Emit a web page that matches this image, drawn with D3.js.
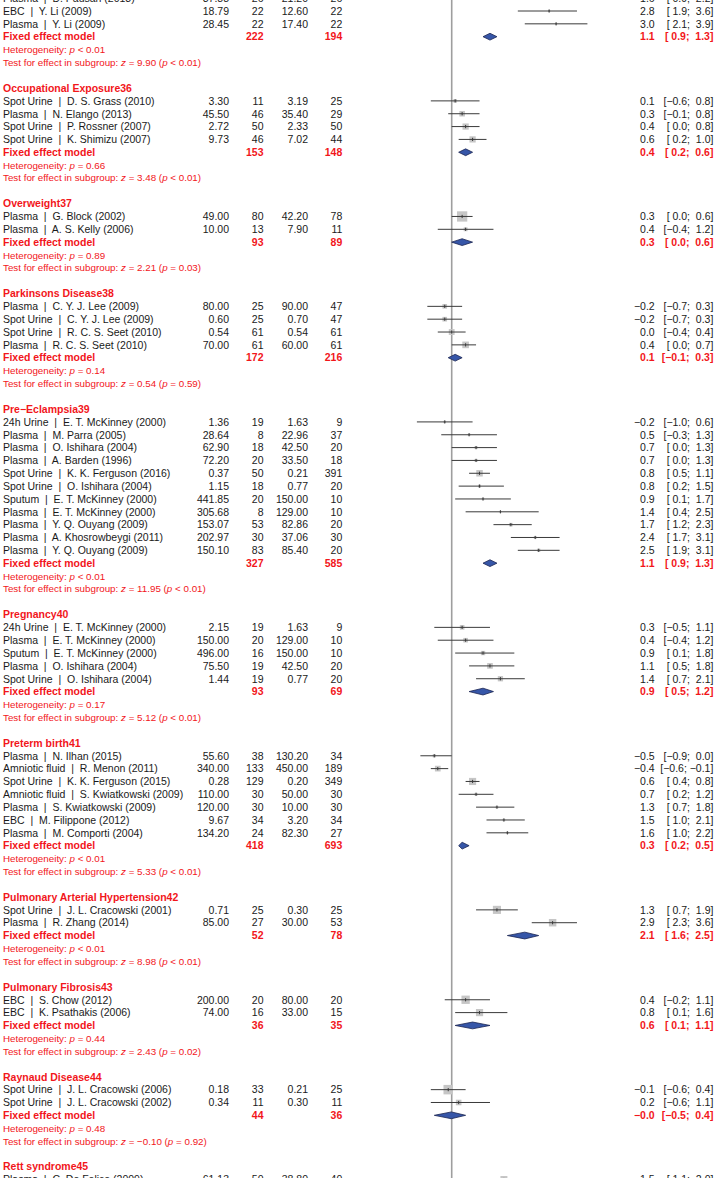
<!DOCTYPE html>
<html><head><meta charset="utf-8">
<script src="https://cdn.jsdelivr.net/npm/d3@7"></script>
<style>
html,body{margin:0;padding:0;background:#fff;}
svg text{white-space:pre;font-family:"Liberation Sans",Arial,sans-serif;}
</style>
</head><body>
<svg id="chart" width="714" height="1178"></svg>
<script>
// ---------- DATA ----------
const groupNames = [null, "Occupational Exposure36", "Overweight37", "Parkinsons Disease38",
  "Pre\u2212Eclampsia39", "Pregnancy40", "Preterm birth41", "Pulmonary Arterial Hypertension42",
  "Pulmonary Fibrosis43", "Raynaud Disease44", "Rett syndrome45"];
const fixedNE  = [222, 153, 93, 172, 327, 93, 418, 52, 36, 44, null];
const fixedNC  = [194, 148, 89, 216, 585, 69, 693, 78, 35, 36, null];
const fixedEst = [1.1, 0.4, 0.3, 0.1, 1.1, 0.9, 0.3, 2.1, 0.6, -0.01, null];
const fixedLo  = [0.9, 0.2, 0.0, -0.1, 0.9, 0.5, 0.2, 1.6, 0.1, -0.5, null];
const fixedHi  = [1.3, 0.6, 0.6, 0.3, 1.3, 1.2, 0.5, 2.5, 1.1, 0.4, null];
const hetP     = ["< 0.01", "= 0.66", "= 0.89", "= 0.14", "< 0.01", "= 0.17", "< 0.01", "< 0.01", "= 0.44", "= 0.48", null];
const testZ    = ["9.90", "3.48", "2.21", "0.54", "11.95", "5.12", "5.33", "8.98", "2.43", "\u22120.10", null];
const testP    = ["< 0.01", "< 0.01", "= 0.03", "= 0.59", "< 0.01", "< 0.01", "< 0.01", "< 0.01", "= 0.02", "= 0.92", null];
// weight of studies of a subgroup that fall outside the picture
const hiddenWeight = [120, 0, 0, 0, 0, 0, 0, 0, 0, 0, 28];

const studyGroup = [0,0,0, 1,1,1,1, 2,2, 3,3,3,3, 4,4,4,4,4,4,4,4,4,4,4, 5,5,5,5,5, 6,6,6,6,6,6,6, 7,7, 8,8, 9,9, 10];
const studyLabel = [
  "Plasma  |  D. Pausan (2013)", "EBC  |  Y. Li (2009)", "Plasma  |  Y. Li (2009)",
  "Spot Urine  |  D. S. Grass (2010)", "Plasma  |  N. Elango (2013)", "Spot Urine  |  P. Rossner (2007)", "Spot Urine  |  K. Shimizu (2007)",
  "Plasma  |  G. Block (2002)", "Plasma  |  A. S. Kelly (2006)",
  "Plasma  |  C. Y. J. Lee (2009)", "Spot Urine  |  C. Y. J. Lee (2009)", "Spot Urine  |  R. C. S. Seet (2010)", "Plasma  |  R. C. S. Seet (2010)",
  "24h Urine  |  E. T. McKinney (2000)", "Plasma  |  M. Parra (2005)", "Plasma  |  O. Ishihara (2004)", "Plasma  |  A. Barden (1996)",
  "Spot Urine  |  K. K. Ferguson (2016)", "Spot Urine  |  O. Ishihara (2004)", "Sputum  |  E. T. McKinney (2000)", "Plasma  |  E. T. McKinney (2000)",
  "Plasma  |  Y. Q. Ouyang (2009)", "Plasma  |  A. Khosrowbeygi (2011)", "Plasma  |  Y. Q. Ouyang (2009)",
  "24h Urine  |  E. T. McKinney (2000)", "Plasma  |  E. T. McKinney (2000)", "Sputum  |  E. T. McKinney (2000)", "Plasma  |  O. Ishihara (2004)", "Spot Urine  |  O. Ishihara (2004)",
  "Plasma  |  N. Ilhan (2015)", "Amniotic fluid  |  R. Menon (2011)", "Spot Urine  |  K. K. Ferguson (2015)", "Amniotic fluid  |  S. Kwiatkowski (2009)",
  "Plasma  |  S. Kwiatkowski (2009)", "EBC  |  M. Filippone (2012)", "Plasma  |  M. Comporti (2004)",
  "Spot Urine  |  J. L. Cracowski (2001)", "Plasma  |  R. Zhang (2014)",
  "EBC  |  S. Chow (2012)", "EBC  |  K. Psathakis (2006)",
  "Spot Urine  |  J. L. Cracowski (2006)", "Spot Urine  |  J. L. Cracowski (2002)",
  "Plasma  |  C. De Felice (2009)"];
const meanE = [37.88, 18.79, 28.45, 3.30, 45.50, 2.72, 9.73, 49.00, 10.00, 80.00, 0.60, 0.54, 70.00,
  1.36, 28.64, 62.90, 72.20, 0.37, 1.15, 441.85, 305.68, 153.07, 202.97, 150.10,
  2.15, 150.00, 496.00, 75.50, 1.44, 55.60, 340.00, 0.28, 110.00, 120.00, 9.67, 134.20,
  0.71, 85.00, 200.00, 74.00, 0.18, 0.34, 61.13];
const nE = [26, 22, 22, 11, 46, 50, 46, 80, 13, 25, 25, 61, 61,
  19, 8, 18, 20, 50, 18, 20, 8, 53, 30, 83,
  19, 20, 16, 19, 19, 38, 133, 129, 30, 30, 34, 24,
  25, 27, 20, 16, 33, 11, 50];
const meanC = [21.20, 12.60, 17.40, 3.19, 35.40, 2.33, 7.02, 42.20, 7.90, 90.00, 0.70, 0.54, 60.00,
  1.63, 22.96, 42.50, 33.50, 0.21, 0.77, 150.00, 129.00, 82.86, 37.06, 85.40,
  1.63, 129.00, 150.00, 42.50, 0.77, 130.20, 450.00, 0.20, 50.00, 10.00, 3.20, 82.30,
  0.30, 30.00, 80.00, 33.00, 0.21, 0.30, 38.80];
const nC = [26, 22, 22, 25, 29, 50, 44, 78, 11, 47, 47, 61, 61,
  9, 37, 20, 18, 391, 20, 10, 10, 20, 30, 20,
  9, 10, 10, 20, 20, 34, 189, 349, 30, 30, 34, 27,
  25, 53, 20, 15, 25, 11, 40];
const est = [1.6, 2.8, 3.0, 0.1, 0.3, 0.4, 0.6, 0.3, 0.4, -0.2, -0.2, 0.0, 0.4,
  -0.2, 0.5, 0.7, 0.7, 0.8, 0.8, 0.9, 1.4, 1.7, 2.4, 2.5,
  0.3, 0.4, 0.9, 1.1, 1.4, -0.5, -0.4, 0.6, 0.7, 1.3, 1.5, 1.6,
  1.3, 2.9, 0.4, 0.8, -0.1, 0.2, 1.5];
const lo = [0.9, 1.9, 2.1, -0.6, -0.1, 0.0, 0.2, 0.0, -0.4, -0.7, -0.7, -0.4, 0.0,
  -1.0, -0.3, 0.0, 0.0, 0.5, 0.2, 0.1, 0.4, 1.2, 1.7, 1.9,
  -0.5, -0.4, 0.1, 0.5, 0.7, -0.9, -0.6, 0.4, 0.2, 0.7, 1.0, 1.0,
  0.7, 2.3, -0.2, 0.1, -0.6, -0.6, 1.1];
const hi = [2.2, 3.6, 3.9, 0.8, 0.8, 0.8, 1.0, 0.6, 1.2, 0.3, 0.3, 0.4, 0.7,
  0.6, 1.3, 1.3, 1.3, 1.1, 1.5, 1.7, 2.5, 2.3, 3.1, 3.1,
  1.1, 1.2, 1.8, 1.8, 2.1, 0.0, -0.1, 0.8, 1.2, 1.8, 2.1, 2.2,
  1.9, 3.6, 1.1, 1.6, 0.4, 1.1, 2.0];

// ---------- LAYOUT ----------
const W = 714, H = 1178;
const rowH = 12.841, row0 = -1.84;
const fs = 10.5, fsHet = 9.8;
const colMeanE = 229, colNE = 263.5, colMeanC = 308, colNC = 342.3, colEst = 654.7, colCI = 713.4;
const red = "#f2161b";

const x = d3.scaleLinear().domain([-1, 4]).range([451.7 - 34.8, 451.7 + 4 * 34.8]);
const yRow = k => row0 + k * rowH;

const svg = d3.select("#chart");
svg.append("rect").attr("width", W).attr("height", H).attr("fill", "#fff");

const fmt1 = v => (v < 0 ? "\u2212" : "") + Math.abs(v).toFixed(1);
const pad1 = v => (v < 0 ? "\u2212" : " ") + Math.abs(v).toFixed(1);
const ciText = (l, h) => "[" + pad1(l) + "; " + pad1(h) + "]";

// weights within subgroup
const seOf = i => (hi[i] - lo[i]) / (2 * 1.96);
const wOf = i => 1 / (seOf(i) * seOf(i));
const groupW = groupNames.map((g, gi) =>
  d3.sum(studyGroup.map((s, i) => s === gi ? wOf(i) : 0)) + hiddenWeight[gi]);

// build rows
const rows = [];
let r = 0;
groupNames.forEach((g, gi) => {
  if (g !== null) { rows.push({type: "head", k: r, g: gi}); r++; }
  studyGroup.forEach((s, i) => { if (s === gi) { rows.push({type: "study", k: r, i}); r++; } });
  if (fixedEst[gi] !== null) {
    rows.push({type: "fixed", k: r, g: gi}); r++;
    rows.push({type: "het", k: r, g: gi}); r++;
    rows.push({type: "test", k: r, g: gi}); r++;
    r++; // blank
  }
});

// reference line
svg.append("line").attr("x1", x(0)).attr("x2", x(0)).attr("y1", 0).attr("y2", H)
  .attr("stroke", "#9e9e9e").attr("stroke-width", 1.6);

const gText = svg.append("g");
const gPlot = svg.append("g");

function txt(xp, k, s, opts = {}) {
  return gText.append("text").attr("x", xp).attr("y", yRow(k) + (opts.size || fs) * 0.36)
    .attr("font-size", opts.size || fs)
    .attr("font-weight", opts.bold ? "bold" : null)
    .attr("text-anchor", opts.anchor || "start")
    .attr("fill", opts.color || "#1a1a1a")
    .text(s);
}

rows.forEach(row => {
  const k = row.k;
  if (row.type === "head") {
    txt(3, k, groupNames[row.g], {bold: true, color: red});
  } else if (row.type === "study") {
    const i = row.i;
    txt(3, k, studyLabel[i]);
    txt(colMeanE, k, meanE[i].toFixed(2), {anchor: "end"});
    txt(colNE, k, String(nE[i]), {anchor: "end"});
    txt(colMeanC, k, meanC[i].toFixed(2), {anchor: "end"});
    txt(colNC, k, String(nC[i]), {anchor: "end"});
    txt(colEst, k, fmt1(est[i]), {anchor: "end"});
    txt(colCI, k, ciText(lo[i], hi[i]), {anchor: "end"});
    const yc = yRow(k);
    const side = 11 * Math.sqrt(wOf(i) / groupW[studyGroup[i]]);
    gPlot.append("rect").attr("x", x(est[i]) - side / 2).attr("y", yc - side / 2)
      .attr("width", side).attr("height", side).attr("fill", "#c6c6c6");
    gPlot.append("line").attr("x1", x(lo[i])).attr("x2", x(hi[i])).attr("y1", yc).attr("y2", yc)
      .attr("stroke", "#3a3a3a").attr("stroke-width", 1);
    gPlot.append("line").attr("x1", x(est[i])).attr("x2", x(est[i])).attr("y1", yc - 1.6).attr("y2", yc + 1.6)
      .attr("stroke", "#3a3a3a").attr("stroke-width", 1);
  } else if (row.type === "fixed") {
    const g = row.g;
    txt(3, k, "Fixed effect model", {bold: true, color: red});
    txt(colNE, k, String(fixedNE[g]), {bold: true, color: red, anchor: "end"});
    txt(colNC, k, String(fixedNC[g]), {bold: true, color: red, anchor: "end"});
    txt(colEst, k, fmt1(fixedEst[g]), {bold: true, color: red, anchor: "end"});
    txt(colCI, k, ciText(fixedLo[g], fixedHi[g]), {bold: true, color: red, anchor: "end"});
    const yc = yRow(k), hh = 3.4;
    const pts = [[x(fixedLo[g]), yc], [x(fixedEst[g]), yc - hh], [x(fixedHi[g]), yc], [x(fixedEst[g]), yc + hh]];
    gPlot.append("path").attr("d", d3.line()(pts) + "Z")
      .attr("fill", "#3656a8").attr("stroke", "#1b2552").attr("stroke-width", 0.8);
  } else if (row.type === "het") {
    const t = txt(3, k, "", {size: fsHet, color: red});
    t.append("tspan").text("Heterogeneity: ");
    t.append("tspan").attr("font-style", "italic").text("p");
    t.append("tspan").text(" " + hetP[row.g]);
  } else if (row.type === "test") {
    const t = txt(3, k, "", {size: fsHet, color: red});
    t.append("tspan").text("Test for effect in subgroup: ");
    t.append("tspan").attr("font-style", "italic").text("z");
    t.append("tspan").text(" = " + testZ[row.g] + " (");
    t.append("tspan").attr("font-style", "italic").text("p");
    t.append("tspan").text(" " + testP[row.g] + ")");
  }
});
</script>
</body></html>
